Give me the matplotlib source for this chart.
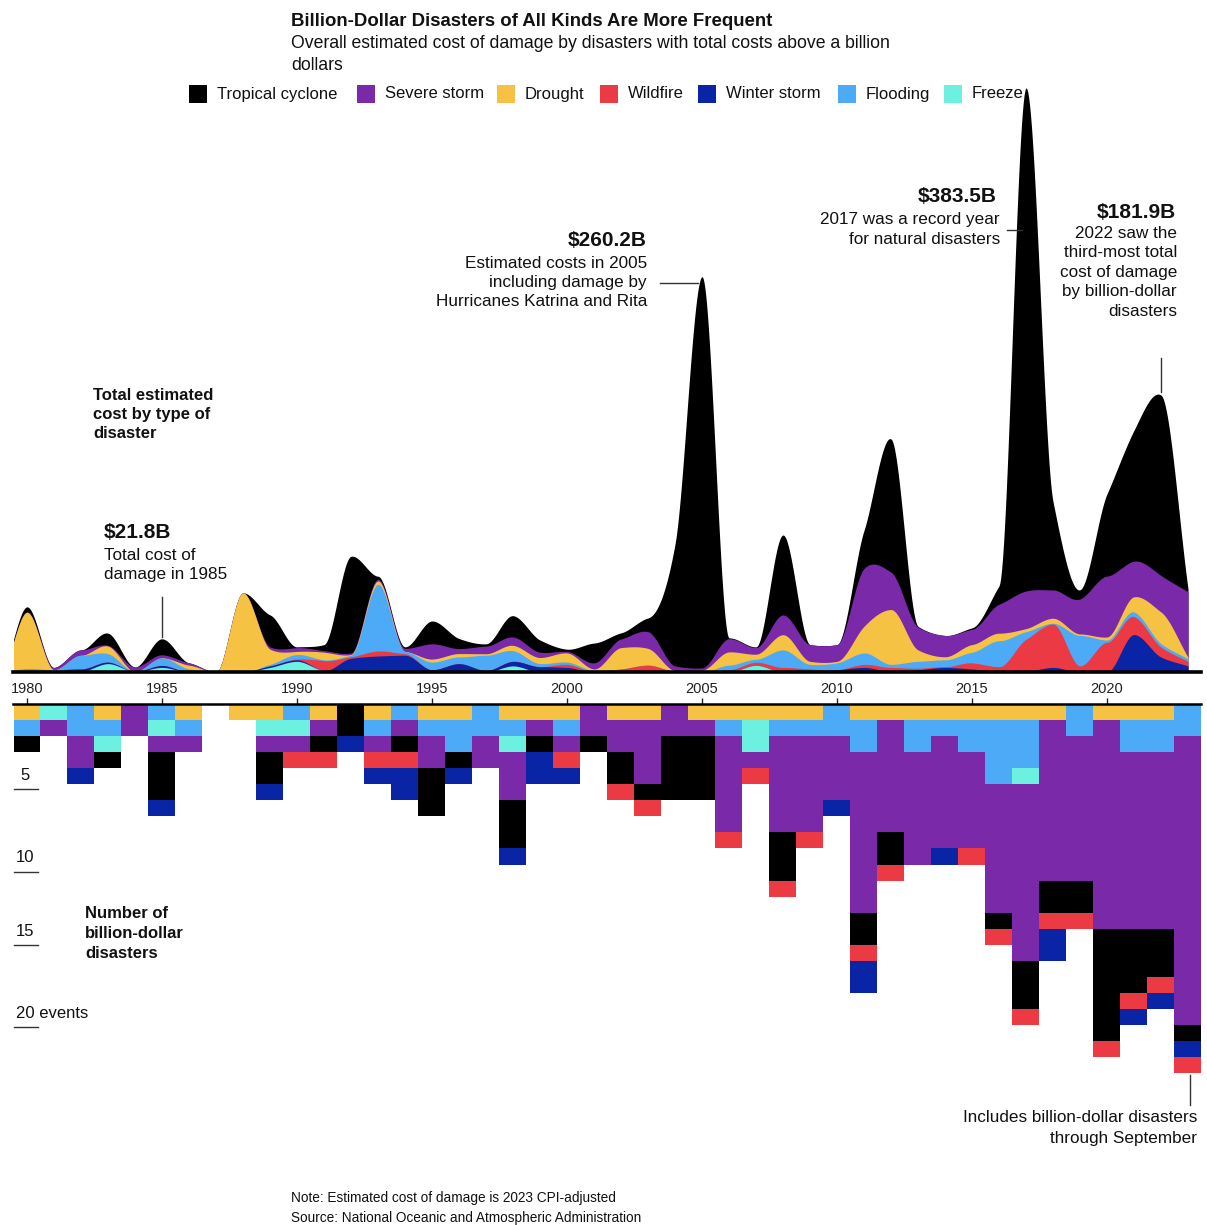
import numpy as np
import matplotlib
matplotlib.use('Agg')
import matplotlib.pyplot as plt
from matplotlib.patches import Rectangle

plt.rcParams['font.family'] = ['Liberation Sans', 'DejaVu Sans']

W, H = 1207, 1225

years = list(range(1980, 2024))

# estimated cost per year and type, billions of 2023 dollars
tropical = [3.5, 0, 0, 8, 0, 10.5, 0, 0, 0, 21, 0.5, 4, 63.5, 2, 1, 15, 6.6, 1.5, 14, 8,
            1.5, 13, 4, 9, 80, 257, 0.5, 0.4, 52.5, 0, 0, 25, 87.5, 0.5, 0, 1, 12, 330.5, 58, 6,
            54, 86, 118.5, 2]
severe = [0, 1.5, 3.5, 0.5, 3, 2, 1.5, 0, 0, 1.5, 2.5, 1, 1, 1.1, 2, 10, 3.3, 5, 5.5, 3.5,
          1, 4, 5.7, 11, 3, 1.5, 8.7, 4.4, 13, 11, 11, 38, 24.6, 15, 14, 10, 19, 24.7, 18.6, 23,
          40, 23.4, 24, 43]
drought = [37, 0, 0, 5, 0, 0, 2.5, 0, 52, 10, 2, 5, 0.5, 2.2, 0, 2, 2.2, 1, 3.5, 4,
           6, 1, 14, 11, 0.5, 1.2, 8.7, 3.3, 10, 2, 1, 17.5, 36, 7.5, 2, 5, 5, 2, 3.3, 1,
           2, 10, 20.8, 1]
flooding = [2, 0, 9, 5.5, 0, 5, 2, 0, 0, 1, 3, 0.5, 1, 43.8, 1.5, 5, 4.4, 10, 7, 2,
            1.5, 0.5, 0, 0, 0, 0, 3, 2, 11.5, 3, 4.5, 7.5, 2, 4.5, 4.5, 7, 17, 5, 0.5, 20,
            1.5, 3, 2.2, 1.7]
wildfire = [0, 0, 0, 0, 0, 0, 0, 0, 0, 0, 0.5, 6.5, 1, 3.3, 1, 0, 0, 0, 0, 0,
            2, 0.5, 2, 4.5, 0.5, 0, 1.5, 2, 3, 1.5, 0, 2, 2.5, 1, 0.5, 4, 3, 20.8, 28.5, 4,
            19.5, 11.8, 6.6, 3]
winter = [0, 0, 1.5, 1, 0, 1.3, 0, 0, 0, 1, 1, 0, 9, 10.5, 11, 1.5, 5.5, 1, 3, 3.5,
          3, 0, 0, 0, 0, 0, 0, 0, 0, 0.5, 1.5, 3, 0.5, 1.5, 3, 2, 0.5, 0.5, 3, 0,
          0, 24.6, 9.8, 4]
freeze = [0.3, 1.5, 0.5, 5.5, 0.3, 3, 0, 0, 0, 3, 7, 1, 0, 0, 0, 0, 0, 0, 4, 0,
          0, 0, 0, 0, 0, 0, 0, 4.4, 0, 0, 0, 0, 0, 0, 0, 0, 0, 0.2, 0, 0,
          0, 0, 0, 0]

# billion-dollar events per year, top to bottom: type code + count
# T tropical, S severe, D drought, W wildfire, B winter storm, F flooding, Z freeze
events = [
    "D1 F1 T1", "Z1 S1", "F2 S2 B1", "D1 F1 Z1 T1", "S2", "F1 Z1 S1 T3 B1", "D1 F1 S1", "",
    "D1", "D1 Z1 S1 T2 B1", "F1 Z1 S1 W1", "D1 S1 T1 W1", "T2 B1", "D1 F1 S1 W1 B1",
    "F1 S1 T1 W1 B2", "D1 F1 S2 T3", "D1 F2 T1 B1", "F2 S2", "D1 F1 Z1 S3 T3 B1",
    "D1 S1 T1 B2", "D1 F1 S1 W1 B1", "S2 T1", "D1 S2 T2 W1", "D1 S4 T1 W1", "S2 T4",
    "D1 S1 T4", "D1 F1 S6 W1", "D1 Z2 S1 W1", "D1 F1 S6 T3 W1", "D1 F1 S6 W1",
    "F2 S4 B1", "D1 F2 S10 T2 W1 B2", "D1 S7 T2 W1", "D1 F2 S7", "D1 F1 S7 B1",
    "D1 F2 S6 W1", "D1 F4 S8 T1 W1", "D1 F3 Z1 S11 T3 W1", "D1 S10 T2 W1 B2",
    "F2 S9 T2 W1", "D1 S13 T7 W1", "D1 F2 S11 T4 W1 B1", "D1 F2 S11 T3 W1 B1",
    "F2 S18 T1 B1 W1",
]

colors = {
    'T': '#000000', 'S': '#7a2aa8', 'D': '#f6c244', 'W': '#ec3a45',
    'B': '#0a24a6', 'F': '#4caaf6', 'Z': '#6cf0df',
}
legend_names = ['Tropical cyclone', 'Severe storm', 'Drought', 'Wildfire',
                'Winter storm', 'Flooding', 'Freeze']
legend_codes = ['T', 'S', 'D', 'W', 'B', 'F', 'Z']


def fx(x):
    return x / W


def fy(y):
    return 1 - y / H


def monotone(x, y, xs):
    # monotone cubic (Fritsch-Carlson) so the smoothed areas never go negative
    x = np.asarray(x, float)
    y = np.asarray(y, float)
    h = np.diff(x)
    delta = np.diff(y) / h
    d = np.zeros_like(y)
    for k in range(1, len(x) - 1):
        if delta[k - 1] * delta[k] > 0:
            w1 = 2 * h[k] + h[k - 1]
            w2 = h[k] + 2 * h[k - 1]
            d[k] = (w1 + w2) / (w1 / delta[k - 1] + w2 / delta[k])
    d[0] = 0
    d[-1] = delta[-1]
    idx = np.clip(np.searchsorted(x, xs) - 1, 0, len(x) - 2)
    t = (xs - x[idx]) / h[idx]
    h00 = 2 * t**3 - 3 * t**2 + 1
    h10 = t**3 - 2 * t**2 + t
    h01 = -2 * t**3 + 3 * t**2
    h11 = t**3 - t**2
    return h00 * y[idx] + h10 * h[idx] * d[idx] + h01 * y[idx + 1] + h11 * h[idx] * d[idx + 1]


fig = plt.figure(figsize=(W / 100, H / 100), dpi=100)

# ---- top: smoothed stacked costs ----
ax = fig.add_axes([fx(13.5), fy(672), (1201.5 - 13.5) / W, (672 - 63) / H])
# the curve starts from nothing the year before the record begins
knots = [1979] + years
xs = np.linspace(1979, 2023, 44 * 30 + 1)
layers = [('Z', freeze), ('B', winter), ('W', wildfire), ('F', flooding),
          ('D', drought), ('S', severe), ('T', tropical)]
cum = np.zeros_like(xs)
tops = []
for code, vals in layers:
    cum = cum + np.maximum(monotone(knots, [0] + list(vals), xs), 0)
    tops.append((code, cum.copy()))
for code, top in reversed(tops):
    ax.fill_between(xs, 0, top, color=colors[code], linewidth=0)

ax.set_xlim(1979.5, 2023.5)
ax.set_ylim(0, 400)
for s in ['top', 'left', 'right']:
    ax.spines[s].set_visible(False)
ax.spines['bottom'].set_linewidth(2.6)
ax.set_yticks([])
ax.set_xticks(range(1980, 2021, 5))
ax.tick_params(axis='x', length=0, pad=7, labelsize=10.5, labelcolor='#222')

# annotation leader lines
ax.plot([1985, 1985], [23, 49], color='#333', lw=1, clip_on=False)
ax.plot([2003.45, 2004.85], [255.5, 255.5], color='#333', lw=1, clip_on=False)
ax.plot([2016.3, 2016.85], [290, 290], color='#333', lw=1, clip_on=False)
ax.plot([2022, 2022], [184, 206], color='#333', lw=1, clip_on=False)

# ---- bottom: one square per billion-dollar event ----
axb = fig.add_axes([fx(13.5), fy(704 + 26 * 16.05), (1201.5 - 13.5) / W, 26 * 16.05 / H])
for yr, seq in zip(years, events):
    row = 0
    for part in seq.split():
        code, n = part[0], int(part[1:])
        axb.bar(yr, n, bottom=row, width=1.0, color=colors[code], linewidth=0,
                antialiased=False)
        row += n
axb.set_xlim(1979.5, 2023.5)
axb.set_ylim(26, 0)
for s in ['bottom', 'left', 'right']:
    axb.spines[s].set_visible(False)
axb.spines['top'].set_linewidth(1.8)
axb.set_yticks([])
axb.xaxis.tick_top()
axb.set_xticks(range(1980, 2021, 5))
axb.tick_params(axis='x', length=4, width=1, labeltop=False, color='#222')

axb.plot([2023.07, 2023.07], [23.1, 25.0], color='#333', lw=1, clip_on=False)


def txt(x, y, s, size=12, weight='normal', ha='left'):
    fig.text(fx(x), fy(y), s, fontsize=size, fontweight=weight, ha=ha, va='center',
             color='#111')


def hline(x0, x1, y):
    fig.add_artist(plt.Line2D([fx(x0), fx(x1)], [fy(y), fy(y)], color='#333', lw=1))


# count scale on the left
for y_lab, y_line, lab, x_lab in [(775, 789, '5', 20), (858, 872, '10', 16),
                                  (931, 945, '15', 16), (1013, 1027, '20 events', 16)]:
    txt(x_lab, y_lab, lab, 12)
    hline(14, 38, y_line)

# title block
txt(291, 21, 'Billion-Dollar Disasters of All Kinds Are More Frequent', 13.4, 'bold')
txt(291, 44, 'Overall estimated cost of damage by disasters with total costs above a billion', 12.7)
txt(291, 65, 'dollars', 12.7)

# legend
legend_x = [189, 357, 497, 600, 698, 838, 944]
for x0, code, name in zip(legend_x, legend_codes, legend_names):
    fig.patches.append(Rectangle((fx(x0), fy(103)), 18 / W, 18 / H, transform=fig.transFigure,
                                 facecolor=colors[code], edgecolor='none'))
    txt(x0 + 28, 94, name, 12)

# annotations
txt(104, 533, '$21.8B', 15, 'bold')
txt(104, 555, 'Total cost of', 12.3)
txt(104, 574, 'damage in 1985', 12.3)

txt(93, 395, 'Total estimated', 12, 'bold')
txt(93, 414, 'cost by type of', 12, 'bold')
txt(93, 433, 'disaster', 12, 'bold')

txt(647, 240, '$260.2B', 15, 'bold', 'right')
txt(647, 263, 'Estimated costs in 2005', 12.3, ha='right')
txt(647, 283, 'including damage by', 12.3, ha='right')
txt(647, 302, 'Hurricanes Katrina and Rita', 12.3, ha='right')

txt(997, 197, '$383.5B', 15, 'bold', 'right')
txt(1000, 220, '2017 was a record year', 12.3, ha='right')
txt(1000, 240, 'for natural disasters', 12.3, ha='right')

txt(1176, 213, '$181.9B', 15, 'bold', 'right')
for i, line in enumerate(['2022 saw the', 'third-most total', 'cost of damage',
                          'by billion-dollar', 'disasters']):
    txt(1177, 233 + 19.6 * i, line, 12.3, ha='right')

txt(85, 914, 'Number of', 12, 'bold')
txt(85, 934, 'billion-dollar', 12, 'bold')
txt(85, 954, 'disasters', 12, 'bold')

txt(1197, 1118, 'Includes billion-dollar disasters', 12.3, ha='right')
txt(1197, 1138, 'through September', 12.3, ha='right')

txt(291, 1198, 'Note: Estimated cost of damage is 2023 CPI-adjusted', 9.8)
txt(291, 1218, 'Source: National Oceanic and Atmospheric Administration', 9.8)

fig.savefig('out.png', dpi=100)
